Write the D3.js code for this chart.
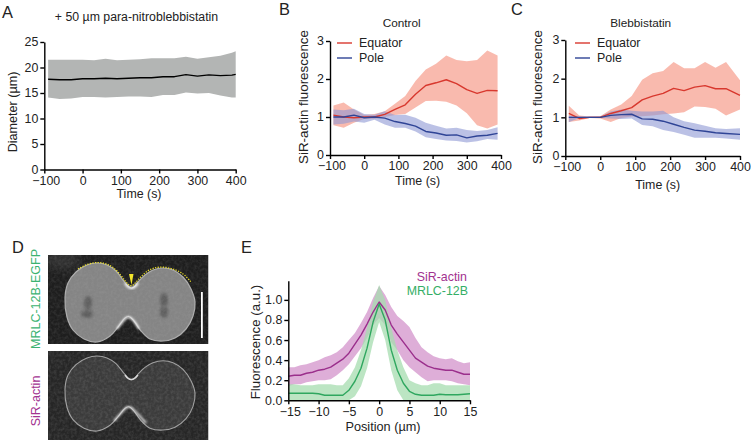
<!DOCTYPE html>
<html><head><meta charset="utf-8">
<script src="https://cdn.jsdelivr.net/npm/d3@7"></script>
<style>
html,body{margin:0;padding:0;background:#fff}
svg{display:block}
text{font-family:"Liberation Sans",Arial,sans-serif;fill:#1a1a1a}
</style></head><body>
<svg id="c" width="751" height="440"></svg>
<script>
// ---- data ----
const timesA = [-90,-60,-30,0,30,60,90,120,150,180,210,240,270,300,330,360,390,400];
const diamMean = [17.7,17.6,17.6,17.8,17.8,17.9,17.8,17.9,18.0,18.0,18.2,18.2,18.6,18.3,18.55,18.4,18.5,18.65];
const diamUp = [21.5,21.5,21.5,21.5,21.4,21.7,21.4,21.5,21.6,21.8,21.8,21.8,22.1,21.7,22.0,22.3,22.9,23.2];
const diamLo = [14.1,13.8,13.9,14.2,14.2,14.1,14.2,14.3,14.3,14.2,14.6,14.6,15.1,14.9,15.0,14.5,14.1,14.1];

const timesB = [-90,-60,-30,0,30,60,90,120,150,180,210,240,270,300,330,360,390];
const bEqMean = [1.05,1.0,0.98,1.0,1.0,1.07,1.2,1.32,1.6,1.83,1.9,1.98,1.88,1.72,1.62,1.7,1.69];
const bEqUp = [1.3,1.38,1.2,1.05,1.08,1.15,1.35,1.55,1.95,2.25,2.4,2.62,2.5,2.47,2.5,2.75,2.62];
const bEqLo = [0.78,0.72,0.85,0.95,0.95,1.0,1.05,1.08,1.25,1.42,1.43,1.4,1.3,1.1,0.78,0.7,0.8];
const bPoMean = [1.0,1.0,1.05,0.98,1.0,0.97,0.88,0.83,0.76,0.62,0.58,0.52,0.53,0.45,0.5,0.52,0.57];
const bPoUp = [1.2,1.18,1.22,1.08,1.06,1.15,1.05,1.06,0.98,0.85,0.77,0.7,0.72,0.66,0.63,0.66,0.73];
const bPoLo = [0.8,0.82,0.88,0.85,0.93,0.8,0.72,0.72,0.62,0.47,0.42,0.38,0.37,0.33,0.36,0.42,0.4];

const timesC = [-90,-60,-30,0,30,60,90,120,150,180,210,240,270,300,330,360,400];
const cEqMean = [1.1,0.97,1.0,1.0,1.1,1.17,1.25,1.45,1.55,1.62,1.75,1.69,1.78,1.82,1.74,1.74,1.57];
const cEqUp = [1.3,1.05,1.02,1.03,1.2,1.33,1.55,1.97,2.14,2.2,2.43,2.27,2.27,2.43,2.28,2.43,1.96];
const cEqLo = [0.88,0.92,0.98,0.97,0.88,0.98,1.02,1.03,1.05,1.08,1.1,1.13,1.28,1.27,1.22,1.05,1.2];
const cPoMean = [1.0,1.0,1.0,1.0,1.05,1.07,1.08,0.96,0.95,0.9,0.82,0.74,0.67,0.64,0.6,0.58,0.56];
const cPoUp = [1.05,1.02,1.02,1.02,1.15,1.2,1.17,1.15,1.15,1.17,1.0,0.9,0.85,0.78,0.72,0.7,0.72];
const cPoLo = [0.87,0.98,0.98,0.98,0.97,0.96,0.97,0.8,0.77,0.67,0.62,0.55,0.47,0.47,0.47,0.45,0.42];

const positions = [-15,-14,-13,-12,-11,-10,-9,-8,-7,-6,-5,-4,-3,-2,-1,0,1,2,3,4,5,6,7,8,9,10,11,12,13,14,15];
const sirMean = [.24,.25,.25,.27,.28,.30,.31,.33,.37,.41,.47,.56,.65,.76,.88,.98,.90,.75,.66,.58,.50,.42,.38,.34,.32,.31,.30,.30,.28,.26,.26];
const sirUp = [.33,.33,.35,.36,.38,.40,.43,.45,.48,.53,.60,.67,.77,.88,1.02,1.14,1.05,.93,.84,.79,.73,.62,.53,.48,.44,.42,.41,.42,.39,.37,.38];
const sirLo = [.14,.16,.16,.18,.19,.20,.20,.21,.25,.30,.36,.44,.52,.62,.75,.82,.75,.58,.50,.40,.33,.28,.23,.19,.20,.20,.20,.19,.17,.16,.15];
const mrlcMean = [.07,.07,.07,.07,.07,.065,.05,.05,.05,.05,.10,.19,.32,.52,.78,.96,.80,.50,.30,.17,.09,.06,.05,.05,.05,.06,.055,.055,.055,.06,.065];
const mrlcUp = [.16,.16,.15,.15,.15,.16,.16,.16,.15,.15,.22,.33,.50,.72,.98,1.15,1.0,.72,.50,.33,.20,.17,.15,.15,.17,.17,.15,.15,.15,.15,.15];
const mrlcLo = [0,0,0,0,0,0,0,0,0,0,0,.04,.14,.32,.58,.78,.60,.30,.10,0,0,0,0,0,0,0,0,0,0,0,0];

const tickTime = [-100,0,100,200,300,400];
const tickDiam = [0,5,10,15,20,25];
const tickFluor = [0,1,2,3];
const tickPos = [-15,-10,-5,0,5,10,15];
const tickE = [0,.2,.4,.6,.8,1.0];

// ---- colours ----
const RED="#d8382e", REDB="#f9b6aa", BLUE="#2f4496", BLUEB="#8d98d4";
const PUR="#9b2f8c", PURB="#dcaad6", GRN="#2fa75f", GRNB="#a5dcaf";

const svg=d3.select("#c");
function txt(x,y,s,o={}){
  const t=svg.append("text").attr("x",x).attr("y",y).text(s)
    .attr("font-size",o.size||12.4).attr("text-anchor",o.anchor||"middle");
  t.style("fill",o.fill||"#222");
  if(o.rot) t.attr("transform",`rotate(-90 ${x} ${y})`);
  return t;
}
function axes(x,y,h,xt,yt,fmtY,fmtX){
  const gx=svg.append("g").attr("transform",`translate(0,${h})`)
    .call(d3.axisBottom(x).tickValues(xt).tickSize(4).tickSizeOuter(0).tickPadding(2.5).tickFormat(fmtX||d3.format("d")));
  const gy=svg.append("g").attr("transform",`translate(${x.range()[0]},0)`)
    .call(d3.axisLeft(y).tickValues(yt).tickSize(4).tickSizeOuter(0).tickPadding(2).tickFormat(fmtY||d3.format("d")));
  [gx,gy].forEach(g=>{
    g.selectAll("path,line").attr("stroke","#000").attr("stroke-width",1.4);
    g.selectAll("text").attr("font-size",12.4).style("fill","#222")
     .attr("font-family",'"Liberation Sans",Arial,sans-serif');
  });
  gx.selectAll("text").filter((d,i)=>i===0).attr("dx",1.5);
}
function band(xs,lo,up,x,y,fill,op){
  svg.append("path").attr("d",d3.area().x((d,i)=>x(xs[i])).y0((d,i)=>y(lo[i])).y1((d,i)=>y(up[i]))(xs))
    .attr("fill",fill).attr("fill-opacity",op==null?1:op);
}
function line(xs,v,x,y,col,w){
  svg.append("path").attr("d",d3.line().x((d,i)=>x(xs[i])).y((d,i)=>y(v[i]))(xs))
    .attr("fill","none").attr("stroke",col).attr("stroke-width",w||1.4).attr("stroke-linejoin","round");
}

// ---- panel A ----
{const x=d3.scaleLinear([-100,400],[44.3,235.7]),y=d3.scaleLinear([0,25],[169.5,42]);
 band(timesA,diamLo,diamUp,x,y,"#b3b5b4");
 line(timesA,diamMean,x,y,"#000",1.4);
 axes(x,y,169.5,tickTime,tickDiam);
 txt(136.5,21,"+ 50 µm para-nitroblebbistatin",{size:12.3});
 txt(17,112,"Diameter (µm)",{rot:1,size:12.6});
 txt(139,198,"Time (s)");
}
// ---- panel B ----
{const x=d3.scaleLinear([-100,400],[330,501]),y=d3.scaleLinear([0,3],[155,41]);
 band(timesB,bEqLo,bEqUp,x,y,REDB,.95);
 band(timesB,bPoLo,bPoUp,x,y,BLUEB,.6);
 line(timesB,bEqMean,x,y,RED);
 line(timesB,bPoMean,x,y,BLUE);
 axes(x,y,155,tickTime,tickFluor);
 txt(401.7,27,"Control",{size:11.8});
 txt(307.5,97,"SiR-actin fluorescence",{rot:1,size:13.4});
 txt(417.6,185,"Time (s)");
 [["Equator",RED,43],["Pole",BLUE,58]].forEach(([s,c,ly])=>{
   svg.append("line").attr("x1",337).attr("x2",352).attr("y1",ly).attr("y2",ly).attr("stroke",c).attr("stroke-width",1.4);
   txt(359,ly+4,s,{anchor:"start"});
 });
}
// ---- panel C ----
{const x=d3.scaleLinear([-100,400],[565.3,740]),y=d3.scaleLinear([0,3],[156,40]);
 band(timesC,cEqLo,cEqUp,x,y,REDB,.95);
 band(timesC,cPoLo,cPoUp,x,y,BLUEB,.6);
 line(timesC,cEqMean,x,y,RED);
 line(timesC,cPoMean,x,y,BLUE);
 axes(x,y,156,tickTime,tickFluor);
 txt(640.7,27,"Blebbistatin",{size:11.8});
 txt(541.5,97,"SiR-actin fluorescence",{rot:1,size:13.4});
 txt(657.7,189,"Time (s)");
 [["Equator",RED,43],["Pole",BLUE,58]].forEach(([s,c,ly])=>{
   svg.append("line").attr("x1",575).attr("x2",590).attr("y1",ly).attr("y2",ly).attr("stroke",c).attr("stroke-width",1.4);
   txt(597,ly+4,s,{anchor:"start"});
 });
}
// ---- panel E ----
{const x=d3.scaleLinear([-15,15],[288.3,470]),y=d3.scaleLinear([0,1],[400.3,300]);
 const yTop=d3.scaleLinear([0,1.19],[400.3,280.8]);
 band(positions,sirLo,sirUp,x,y,PURB,.95);
 band(positions,mrlcLo,mrlcUp,x,y,GRNB,.75);
 line(positions,sirMean,x,y,PUR);
 line(positions,mrlcMean,x,y,GRN);
 axes(x,yTop,400.3,tickPos,tickE,d3.format(".1f"));
 txt(467,281,"SiR-actin",{anchor:"end",fill:"#a2328f"});
 txt(468,295,"MRLC-12B",{anchor:"end",fill:"#35ae66"});
 txt(259.5,342,"Fluorescence (a.u.)",{rot:1,size:13.3});
 txt(383,431,"Position (µm)",{size:12.7});
}
// ---- panel letters ----
[["A",2,18],["B",279,15],["C",511,15],["D",12,253],["E",241,253]].forEach(([s,a,b])=>txt(a,b,s,{size:16.4,anchor:"start"}));
txt(40,299,"MRLC-12B-EGFP",{rot:1,fill:"#3cb371",size:12.5});
txt(40,401,"SiR-actin",{rot:1,fill:"#a2328f",size:12.5});

// ---- panel D micrographs (schematic, decorative) ----
const defs=svg.append("defs");
[["b05",.45],["b1",.8],["b2",1.6],["b4",4]].forEach(([id,s])=>defs.append("filter").attr("id",id)
  .attr("x","-30%").attr("y","-30%").attr("width","160%").attr("height","160%")
  .append("feGaussianBlur").attr("stdDeviation",s));
const nf=defs.append("filter").attr("id","noise").attr("x",0).attr("y",0).attr("width","100%").attr("height","100%");
nf.append("feTurbulence").attr("type","fractalNoise").attr("baseFrequency",.35).attr("numOctaves",2).attr("seed",4);
nf.append("feColorMatrix").attr("values","0 0 0 0 .5  0 0 0 0 .5  0 0 0 0 .5  1.6 0 0 0 -.55");
const cell=d3.line().curve(d3.curveCatmullRomClosed.alpha(.5));
const outline=[[65,298],[68,283],[76,272],[87,265],[97,263],[107,265],[116,271],[123,280],[128,286],[131,288],[134,287],[138,282],[145,275],[153,270],[163,268],[173,270],[183,277],[191,289],[195,302],[193,316],[186,329],[175,338],[163,341],[150,339],[141,331],[134,321],[129,316.5],[125,318],[118,327],[110,336],[97,342],[84,339],[73,330],[67,317]];
const botOut=outline.map(p=>[p[0],356+(p[1]-263)*75/79]);
defs.append("clipPath").attr("id","ci1").append("rect").attr("x",48).attr("y",255).attr("width",160.5).attr("height",89);
defs.append("clipPath").attr("id","ci2").append("rect").attr("x",48).attr("y",351).attr("width",160.5).attr("height",89);
// top image
const g1=svg.append("g").attr("clip-path","url(#ci1)");
g1.append("rect").attr("x",48).attr("y",255).attr("width",160.5).attr("height",89).attr("fill","#1e1e1e");
g1.append("ellipse").attr("cx",62).attr("cy",260).attr("rx",18).attr("ry",9).attr("fill","#333").attr("filter","url(#b4)");
g1.append("path").attr("d",cell(outline)).attr("fill","#858585").attr("stroke","#adadad").attr("stroke-width",1.2).attr("filter","url(#b05)");
[[88,303,4,7],[87,314,6,4],[164,300,4,7],[164,312,4,6]].forEach(([a,b,c,d])=>g1.append("ellipse").attr("cx",a).attr("cy",b).attr("rx",c).attr("ry",d).attr("fill","#5e5e5e").attr("filter","url(#b2)"));
g1.append("path").attr("d","M125 283Q131 293 138 283").attr("fill","none").attr("stroke","#fff").attr("stroke-width",2.2).attr("filter","url(#b1)");
g1.append("path").attr("d","M117 329Q122 322 126 318Q129 316 132 319Q136 323 139 329").attr("fill","none").attr("stroke","#fff").attr("stroke-width",1.8).attr("filter","url(#b1)");
g1.append("rect").attr("x",48).attr("y",255).attr("width",160.5).attr("height",89).attr("filter","url(#noise)").attr("opacity",.16);
svg.append("rect").attr("x",201).attr("y",292).attr("width",1.8).attr("height",46).attr("fill","#fff");
svg.append("path").attr("d",d3.line().curve(d3.curveBasis)([[78,269],[88,263.5],[99,262],[108,264],[117,270],[125,281],[131,288],[137,281],[146,271],[156,267],[166,267],[177,270],[185,275],[191,282]]))
  .attr("fill","none").attr("stroke","#e8dc2c").attr("stroke-width",1.3).attr("stroke-dasharray","1.3 1.3");
svg.append("path").attr("d","M129 274L133.5 274L131.5 285Z").attr("fill","#f2e52b");
// bottom image
const g2=svg.append("g").attr("clip-path","url(#ci2)");
g2.append("rect").attr("x",48).attr("y",351).attr("width",160.5).attr("height",89).attr("fill","#262626");
g2.append("path").attr("d",cell(botOut)).attr("fill","#3a3a3a").attr("stroke","#a0a0a0").attr("stroke-width",1.1).attr("filter","url(#b05)");
g2.append("path").attr("d","M125 375Q131 384 138 375").attr("fill","none").attr("stroke","#ddd").attr("stroke-width",1.4).attr("filter","url(#b05)");
g2.append("path").attr("d","M114 421Q121 413 126 408Q129 406 132 408Q137 413 146 423").attr("fill","none").attr("stroke","#fff").attr("stroke-width",1.7).attr("filter","url(#b1)");
g2.append("rect").attr("x",48).attr("y",351).attr("width",160.5).attr("height",89).attr("filter","url(#noise)").attr("opacity",.2);
</script>
</body></html>
